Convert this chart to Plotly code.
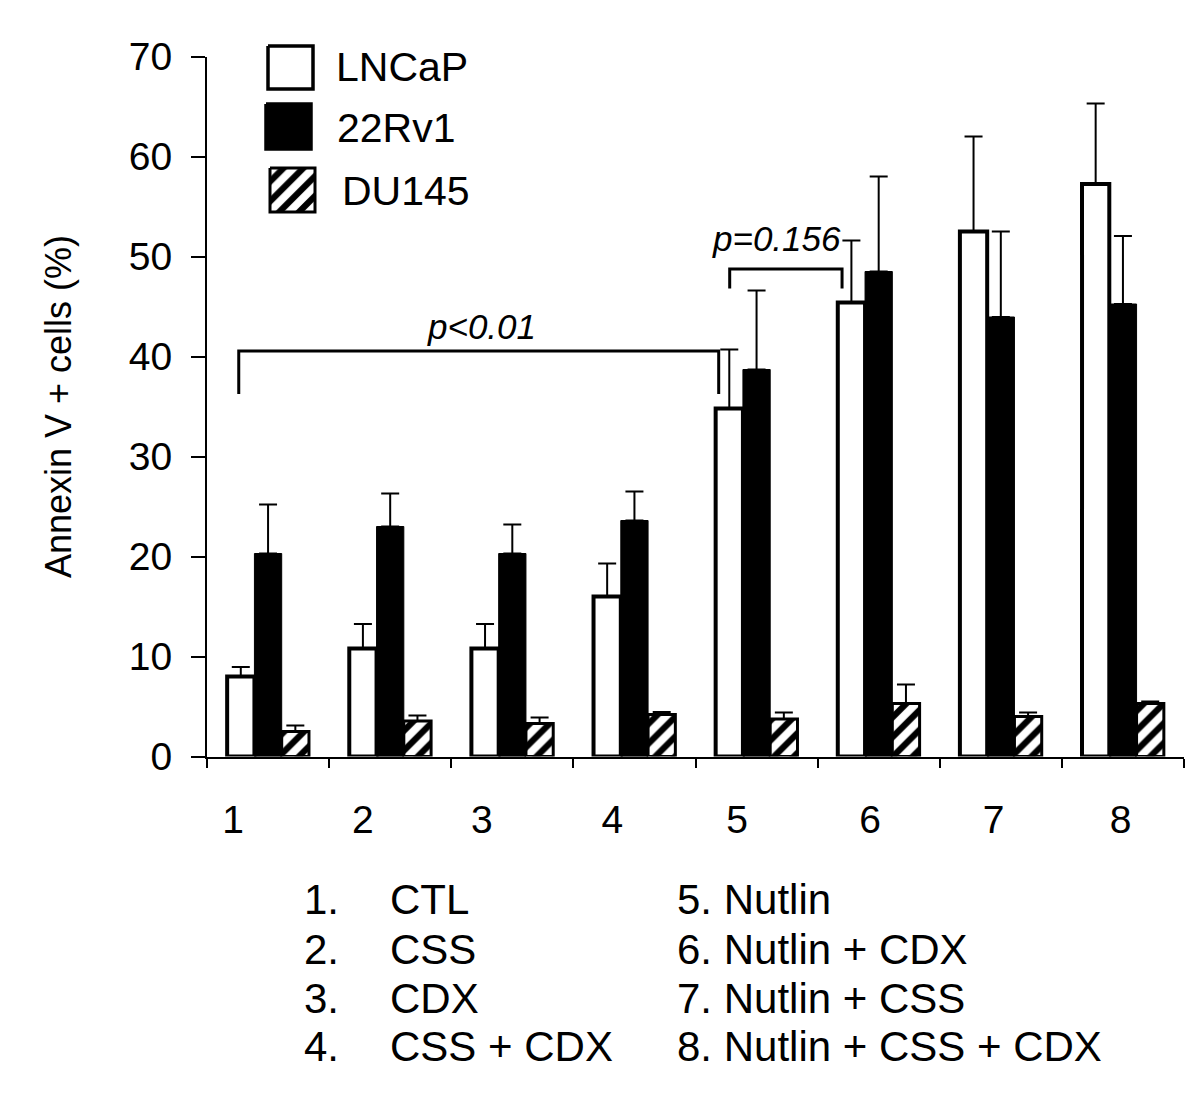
import plotly.graph_objects as go

# ---- data ----
categories = ["1", "2", "3", "4", "5", "6", "7", "8"]
label_pos = [0.213, 1.277, 2.25, 3.32, 4.34, 5.43, 6.44, 7.48]
lncap = [8.0, 10.8, 10.8, 16.0, 34.8, 45.4, 52.5, 57.25]
lncap_err = [0.95, 2.45, 2.45, 3.3, 5.9, 6.2, 9.5, 8.05]
rv1 = [20.3, 23.0, 20.3, 23.6, 38.7, 48.5, 43.95, 45.25]
rv1_err = [4.9, 3.3, 2.9, 2.9, 7.9, 9.5, 8.55, 6.8]
du145 = [2.5, 3.55, 3.3, 4.2, 3.75, 5.3, 4.0, 5.3]
du145_err = [0.6, 0.55, 0.6, 0.25, 0.65, 1.9, 0.4, 0.2]
series_names = ["LNCaP", "22Rv1", "DU145"]
yticks = [0, 10, 20, 30, 40, 50, 60, 70]
treat_nums_left = ["1.", "2.", "3.", "4."]
treat_left = ["CTL", "CSS", "CDX", "CSS + CDX"]
treat_right = ["5. Nutlin", "6. Nutlin + CDX", "7. Nutlin + CSS", "8. Nutlin + CSS + CDX"]
p_labels = ["p<0.01", "p=0.156"]

# bracket geometry (data coords)
br1_x = [0.26, 0.26, 4.19, 4.19]
br1_y = [36.25, 40.55, 40.55, 36.25]
br2_x = [4.28, 4.28, 5.2, 5.2]
br2_y = [46.8, 48.75, 48.75, 46.8]

FONT = "Liberation Sans, Arial, Helvetica, sans-serif"
W, H = 1200, 1093
OFF = 8  # page body margin compensation
L, R, T, B = 207 - OFF, 1184 - OFF, 56.5 - OFF, 756.5 - OFF

xc = [i + 0.5 for i in range(len(categories))]
zeros = [0] * len(categories)

def err(arr):
    return dict(type="data", array=arr, arrayminus=zeros, symmetric=False,
                thickness=2, width=9, color="black")

PATTERN = dict(shape="/", fgcolor="black", fgopacity=1, bgcolor="white",
               size=14, solidity=0.45)

fig = go.Figure()
fig.add_trace(go.Bar(x=xc, y=lncap, name=series_names[0],
                     marker=dict(color="white", line=dict(color="black", width=4)),
                     error_y=err(lncap_err)))
fig.add_trace(go.Bar(x=xc, y=rv1, name=series_names[1],
                     marker=dict(color="black", line=dict(color="black", width=1)),
                     error_y=err(rv1_err)))
fig.add_trace(go.Bar(x=xc, y=du145, name=series_names[2],
                     marker=dict(color="white", line=dict(color="black", width=3),
                                 pattern=PATTERN),
                     error_y=err(du145_err)))

for bx, by in [(br1_x, br1_y), (br2_x, br2_y)]:
    fig.add_trace(go.Scatter(x=bx, y=by, mode="lines",
                             line=dict(color="black", width=3), hoverinfo="skip"))

def px(v):
    return v - OFF

# legend boxes drawn on a pixel-space overlay subplot
leg_boxes = [([268, 313], [46, 89]), ([266, 311], [104, 149]), ([270, 315], [168, 212])]
leg_text_xy = [(334, 67), (335, 128), (340, 191)]
for i, ((x0, x1), (y0, y1)) in enumerate(leg_boxes):
    x0, x1, y0, y1 = px(x0), px(x1), px(y0), px(y1)
    kw = dict(x=[x0, x1, x1, x0, x0], y=[y0, y0, y1, y1, y0], mode="lines",
              fill="toself", xaxis="x2", yaxis="y2", hoverinfo="skip",
              line=dict(color="black", width=3.5))
    if i == 0:
        kw["fillcolor"] = "white"
    elif i == 1:
        kw["fillcolor"] = "black"
    else:
        kw["fillcolor"] = "white"
        kw["fillpattern"] = PATTERN
        kw["line"] = dict(color="black", width=3)
    fig.add_trace(go.Scatter(**kw))

ann = []
for i, (tx, ty) in enumerate(leg_text_xy):
    ann.append(dict(x=px(tx), y=px(ty), xref="x2", yref="y2", text=series_names[i],
                    showarrow=False, xanchor="left", yanchor="middle",
                    font=dict(family=FONT, size=41, color="black")))

rows_y = [899, 949, 998, 1046]
for i in range(4):
    ann.append(dict(x=px(302), y=px(rows_y[i]), xref="x2", yref="y2", text=treat_nums_left[i],
                    showarrow=False, xanchor="left", yanchor="middle",
                    font=dict(family=FONT, size=42, color="black")))
    ann.append(dict(x=px(388), y=px(rows_y[i]), xref="x2", yref="y2", text=treat_left[i],
                    showarrow=False, xanchor="left", yanchor="middle",
                    font=dict(family=FONT, size=42, color="black")))
    ann.append(dict(x=px(675), y=px(rows_y[i]), xref="x2", yref="y2", text=treat_right[i],
                    showarrow=False, xanchor="left", yanchor="middle",
                    font=dict(family=FONT, size=42, color="black")))

ann.append(dict(x=2.244, y=42.95, xref="x", yref="y", text="<i>" + p_labels[0] + "</i>",
                showarrow=False, font=dict(family=FONT, size=35, color="black")))
ann.append(dict(x=4.66, y=51.75, xref="x", yref="y", text="<i>" + p_labels[1] + "</i>",
                showarrow=False, font=dict(family=FONT, size=35, color="black")))

fig.update_layout(
    width=W, height=H,
    margin=dict(l=0, r=0, t=0, b=0, pad=0, autoexpand=False),
    paper_bgcolor="white", plot_bgcolor="rgba(0,0,0,0)",
    barmode="group", bargap=0.33, bargroupgap=0,
    showlegend=False,
    font=dict(family=FONT, color="black"),
    xaxis=dict(domain=[L / W, R / W], range=[0, 8], showline=True, linewidth=2,
               linecolor="black", showgrid=False, zeroline=False, automargin=False,
               tickmode="array", tickvals=label_pos, ticktext=categories, ticks="",
               minor=dict(tickmode="array", tickvals=list(range(9)), ticks="outside",
                          ticklen=9, tickwidth=2, tickcolor="black", showgrid=False),
               tickfont=dict(family=FONT, size=39, color="black"),
               ticklabelstandoff=28, anchor="y", fixedrange=True),
    yaxis=dict(domain=[1 - B / H, 1 - T / H], range=[0, 70], showline=True, linewidth=2,
               linecolor="black", showgrid=False, zeroline=False, automargin=False,
               tickmode="array", tickvals=yticks, ticks="outside", ticklen=14,
               tickwidth=2, tickcolor="black",
               tickfont=dict(family=FONT, size=39, color="black"),
               ticklabelstandoff=11, anchor="x", fixedrange=True,
               title=dict(text="Annexin V + cells (%)", standoff=46,
                          font=dict(family=FONT, size=36, color="black"))),
    xaxis2=dict(domain=[0, 1], range=[0, W], visible=False, anchor="y2",
                automargin=False, fixedrange=True),
    yaxis2=dict(domain=[0, 1], range=[H, 0], visible=False, anchor="x2",
                automargin=False, fixedrange=True),
    annotations=ann,
)

fig.write_html("out.html")
